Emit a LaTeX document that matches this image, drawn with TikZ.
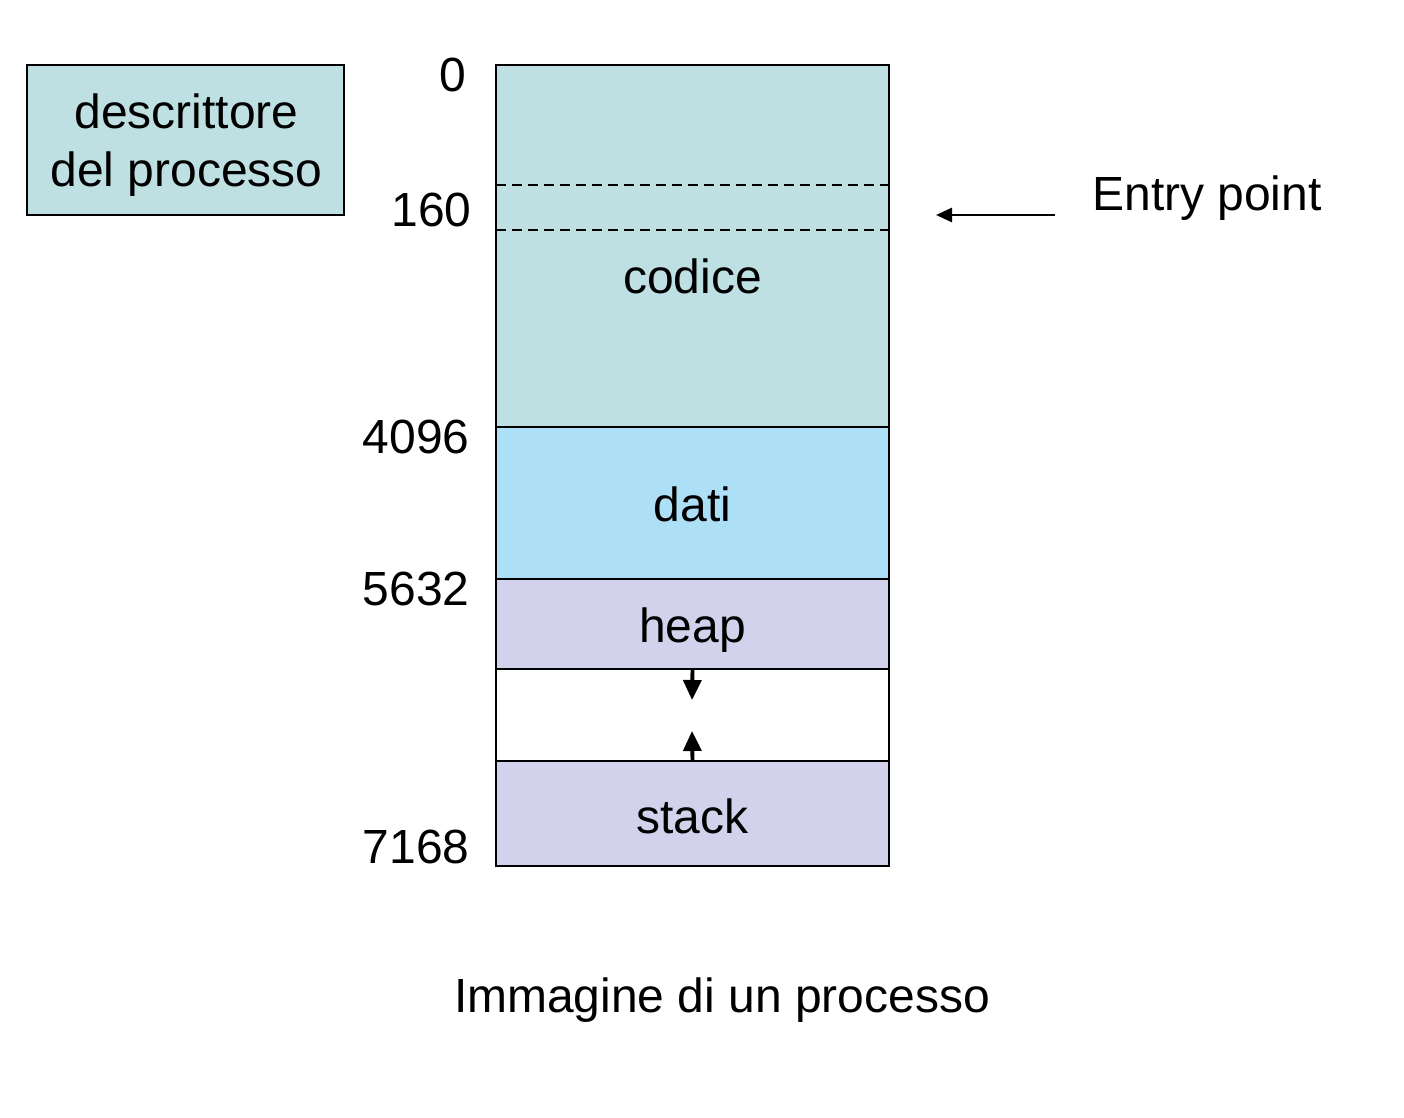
\documentclass[tikz,border=0pt]{standalone}
\usepackage{fontspec}
\setmainfont{Liberation Sans}
\usetikzlibrary{arrows.meta}
\definecolor{codicecol}{RGB}{190,224,226}
\definecolor{daticol}{RGB}{173,223,246}
\definecolor{heapcol}{RGB}{210,210,237}
\tikzset{
  region/.style={draw=black, line width=1.1pt, minimum width=7.86cm, inner sep=0pt, outer sep=0pt},
  lbl/.style={font=\fontsize{27.3}{33}\selectfont, inner sep=0pt},
  addr/.style={lbl, anchor=east},
  growarrow/.style={line width=2.2pt, -{Triangle[length=0.4cm, width=0.36cm]}},
}
\begin{document}
\begin{tikzpicture}[x=0.02cm, y=-0.02cm]
\useasboundingbox (0,0) rectangle (1404,1118);
% descriptor
\node[draw=black, line width=1.1pt, fill=codicecol, minimum width=6.34cm, minimum height=3.0cm, inner sep=0pt] (desc) at (185.5,140) {};
\node[lbl, align=center] (desctext) at (186.5,145) {descrittore\\del processo};
% memory regions
\node[region, fill=codicecol, minimum height=7.24cm] (codice) at (692.5,246) {};
\node[region, fill=daticol, minimum height=3.04cm] (dati) at (692.5,503) {};
\node[region, fill=heapcol, minimum height=1.8cm] (heap) at (692.5,624) {};
\node[region, fill=white, minimum height=1.84cm] (gap) at (692.5,715) {};
\node[region, fill=heapcol, minimum height=2.1cm] (stack) at (692.5,813.5) {};
% dashed lines
\coordinate (d1l) at (496,185); \coordinate (d1r) at (889,185);
\coordinate (d2l) at (496,230); \coordinate (d2r) at (889,230);
\draw[line width=1.1pt, dash pattern=on 0.2cm off 0.12cm] (d1l) -- (d1r);
\draw[line width=1.1pt, dash pattern=on 0.2cm off 0.12cm] (d2l) -- (d2r);
% texts
\node[lbl] (codicetext) at (692.5,276) {codice};
\node[lbl] (datitext) at (692.5,504) {dati};
\node[lbl] (heaptext) at (692.5,630) {heap};
\node[lbl] (stacktext) at (692.5,816) {stack};
% addresses
\node[lbl] (a0) at (453,75) {0};
\node[addr] (a160) at (472,210) {160};
\node[addr] (a4096) at (470,437) {4096};
\node[addr] (a5632) at (470,589) {5632};
\node[addr] (a7168) at (470,847) {7168};
% growth arrows
\coordinate (heapend) at (692,700);
\coordinate (stackend) at (692,731);
\draw[growarrow] (heap.south) -- (heapend);
\draw[growarrow] (stack.north) -- (stackend);
% entry point
\node[lbl, anchor=west] (entry) at (1092,198) {Entry point};
\coordinate (entrystart) at (1055,215);
\coordinate (entryend) at (936,215);
\draw[line width=1.6pt, -{Triangle[length=0.32cm, width=0.28cm]}] (entrystart) -- (entryend);
% caption
\node[lbl] (caption) at (722,1000) {Immagine di un processo};
\end{tikzpicture}
\end{document}
